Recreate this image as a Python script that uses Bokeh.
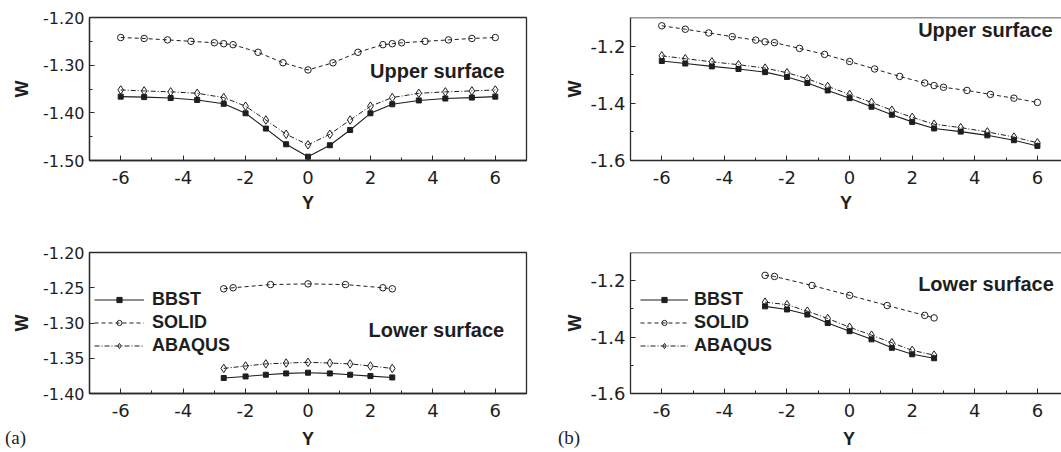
from bokeh.plotting import figure
from bokeh.layouts import column, row
from bokeh.models import (FixedTicker, PrintfTickFormatter, Label, Legend,
                          LegendItem, Span, Range1d, Div)
from bokeh.embed import file_html
from bokeh.resources import INLINE

# ---------------- data ----------------
# (a) upper surface
xa_up_bbst = [-6, -5.25, -4.4, -3.55, -2.7, -2.0, -1.35, -0.7, 0, 0.7, 1.35, 2.0, 2.7, 3.55, 4.4, 5.25, 6]
ya_up_bbst = [-1.366, -1.367, -1.369, -1.373, -1.381, -1.401, -1.433, -1.466, -1.492,
              -1.468, -1.436, -1.401, -1.382, -1.374, -1.370, -1.368, -1.366]
ya_up_abaqus = [-1.352, -1.354, -1.356, -1.359, -1.368, -1.386, -1.415, -1.445, -1.467,
                -1.445, -1.415, -1.386, -1.368, -1.359, -1.356, -1.354, -1.352]
xa_up_solid = [-6, -5.25, -4.5, -3.75, -3.0, -2.7, -2.4, -1.6, -0.8, 0, 0.8, 1.6, 2.4, 2.7, 3.0, 3.75, 4.5, 5.25, 6]
ya_up_solid = [-1.242, -1.244, -1.247, -1.250, -1.253, -1.255, -1.257, -1.273, -1.295, -1.310,
               -1.295, -1.273, -1.257, -1.255, -1.253, -1.250, -1.247, -1.244, -1.242]

# (a) lower surface
xa_lo_bbst = [-2.7, -2.0, -1.35, -0.7, 0, 0.7, 1.35, 2.0, 2.7]
ya_lo_bbst = [-1.378, -1.3758, -1.3734, -1.3715, -1.3705, -1.3715, -1.3734, -1.3753, -1.3772]
ya_lo_abaqus = [-1.3644, -1.361, -1.358, -1.3568, -1.3558, -1.3568, -1.358, -1.361, -1.3644]
xa_lo_solid = [-2.7, -2.4, -1.2, 0, 1.2, 2.4, 2.7]
ya_lo_solid = [-1.2515, -1.250, -1.2455, -1.2445, -1.2455, -1.250, -1.2515]

# (b) upper surface
xb_up_bbst = xa_up_bbst
yb_up_bbst = [-1.252, -1.261, -1.271, -1.280, -1.291, -1.308, -1.329, -1.355, -1.382,
              -1.412, -1.440, -1.465, -1.488, -1.499, -1.512, -1.529, -1.549]
yb_up_abaqus = [-1.234, -1.244, -1.255, -1.265, -1.277, -1.293, -1.314, -1.341, -1.369,
                -1.397, -1.424, -1.449, -1.473, -1.485, -1.500, -1.518, -1.538]
xb_up_solid = xa_up_solid
yb_up_solid = [-1.129, -1.141, -1.154, -1.167, -1.179, -1.185, -1.188, -1.208, -1.229, -1.254,
               -1.280, -1.306, -1.329, -1.338, -1.344, -1.355, -1.369, -1.382, -1.397]

# (b) lower surface
xb_lo_bbst = xa_lo_bbst
yb_lo_bbst = [-1.291, -1.302, -1.320, -1.350, -1.379, -1.408, -1.438, -1.461, -1.475]
yb_lo_abaqus = [-1.276, -1.285, -1.308, -1.334, -1.365, -1.393, -1.420, -1.447, -1.464]
xb_lo_solid = xa_lo_solid
yb_lo_solid = [-1.181, -1.185, -1.217, -1.252, -1.288, -1.323, -1.332]

series_names = ["BBST", "SOLID", "ABAQUS"]

x_ticks = [-6, -4, -2, 0, 2, 4, 6]
x_minor = [-7, -5, -3, -1, 1, 3, 5, 7]
ya_up_ticks = [-1.50, -1.40, -1.30, -1.20]
ya_up_minor = [-1.45, -1.35, -1.25]
ya_lo_ticks = [-1.40, -1.35, -1.30, -1.25, -1.20]
yb_ticks = [-1.6, -1.4, -1.2]
yb_minor = [-1.5, -1.3]

INK = "#1e1e1e"
AX = "#2a2a2a"


def make_panel(width, height, bl, br, bt, bb, xr, yr, yticks, yminor, yfmt,
               ytick_size, wstand, xlabel, outline):
    p = figure(width=width, height=height, output_backend="svg", toolbar_location=None,
               x_range=Range1d(*xr), y_range=Range1d(*yr),
               min_border_left=bl, min_border_right=br, min_border_top=bt,
               min_border_bottom=bb)
    p.xgrid.visible = False
    p.ygrid.visible = False
    p.background_fill_color = "white"
    p.border_fill_color = "white"
    if outline:
        p.outline_line_color = AX
        p.outline_line_width = 1.3
        p.outline_line_alpha = 1
    else:
        p.outline_line_color = None
        p.add_layout(Span(location=yr[1], dimension="width", line_color=AX, line_width=1.3))
    p.xaxis.ticker = FixedTicker(ticks=x_ticks, minor_ticks=x_minor)
    p.xaxis.formatter = PrintfTickFormatter(format="%d")
    p.yaxis.ticker = FixedTicker(ticks=yticks, minor_ticks=yminor)
    p.yaxis.formatter = PrintfTickFormatter(format=yfmt)
    for ax in (p.xaxis, p.yaxis):
        ax.axis_line_color = AX
        ax.axis_line_width = 1.3
        ax.major_tick_in = 5
        ax.major_tick_out = 0
        ax.minor_tick_in = 3
        ax.minor_tick_out = 0
        ax.major_tick_line_color = AX
        ax.minor_tick_line_color = AX
        ax.major_label_text_font = "DejaVu Sans"
        ax.major_label_text_color = INK
        ax.axis_label_text_font = "Liberation Sans"
        ax.axis_label_text_font_style = "bold"
        ax.axis_label_text_font_size = "18px"
        ax.axis_label_text_color = INK
    p.xaxis.major_label_text_font_size = "18px"
    p.yaxis.major_label_text_font_size = ytick_size
    p.xaxis.major_label_standoff = 10
    p.yaxis.major_label_standoff = 5
    if xlabel:
        p.xaxis.axis_label = xlabel
        p.xaxis.axis_label_standoff = 6
    p.yaxis.axis_label = "W"
    p.yaxis.axis_label_standoff = wstand
    return p


def add_series(p, xb, yb, xs, ys, ya):
    rb_l = p.line(xb, yb, line_color=INK, line_width=1.1)
    rb_m = p.scatter(xb, yb, marker="square", size=5, fill_color=INK, line_color=INK)
    rs_l = p.line(xs, ys, line_color=INK, line_width=1.0, line_dash="4 3")
    rs_m = p.scatter(xs, ys, marker="circle", size=6.5, fill_color=None, line_color=INK,
                     line_width=1.0)
    ra_l = p.line(xb, ya, line_color=INK, line_width=1.0, line_dash="5 2 1 2")
    ra_m = p.scatter(xb, ya, marker="diamond", size=8.5, fill_color=None, line_color=INK,
                     line_width=1.0)
    return [[rb_l, rb_m], [rs_l, rs_m], [ra_l, ra_m]]


def add_legend(p, groups, loc, gw, standoff):
    items = [LegendItem(label=n, renderers=g) for n, g in zip(series_names, groups)]
    lg = Legend(items=items, location=loc, glyph_width=gw, glyph_height=13,
                label_height=20, spacing=2, padding=0, margin=0,
                label_standoff=standoff, border_line_color=None,
                background_fill_alpha=0, label_text_font="Liberation Sans",
                label_text_font_style="bold", label_text_font_size="18px",
                label_text_color=INK)
    p.add_layout(lg)


def add_text(p, x, y, txt):
    p.add_layout(Label(x=x, y=y, text=txt, text_font="Liberation Sans",
                       text_font_style="bold", text_font_size="20px",
                       text_color=INK, text_baseline="alphabetic"))


XR_B = (-7, 6.77)

# ---- (a) upper ----
pa1 = make_panel(558, 216, 89, 32, 17, 56, (-7, 7), (-1.5, -1.2), ya_up_ticks, ya_up_minor,
                 "%.2f", "16px", 8, "Y", True)
add_series(pa1, xa_up_bbst, ya_up_bbst, xa_up_solid, ya_up_solid, ya_up_abaqus)
add_text(pa1, 1.99, -1.3118, "Upper surface")

# ---- (b) upper ----
pb1 = make_panel(503, 216, 72, 0, 17, 56, XR_B, (-1.6, -1.1), yb_ticks, yb_minor,
                 "%.1f", "18px", 2, "Y", False)
add_series(pb1, xb_up_bbst, yb_up_bbst, xb_up_solid, yb_up_solid, yb_up_abaqus)
add_text(pb1, 2.19, -1.1427, "Upper surface")

# ---- (a) lower ----
pa2 = make_panel(558, 212, 89, 32, 36, 35, (-7, 7), (-1.4, -1.2), ya_lo_ticks, [],
                 "%.2f", "16px", 8, None, True)
ga = add_series(pa2, xa_lo_bbst, ya_lo_bbst, xa_lo_solid, ya_lo_solid, ya_lo_abaqus)
add_legend(pa2, ga, (5, 37), 50, 8)
add_text(pa2, 1.94, -1.3104, "Lower surface")

# ---- (b) lower ----
pb2 = make_panel(503, 212, 72, 0, 36, 35, XR_B, (-1.6, -1.1), yb_ticks, yb_minor,
                 "%.1f", "18px", 2, None, False)
gb = add_series(pb2, xb_lo_bbst, yb_lo_bbst, xb_lo_solid, yb_lo_solid, yb_lo_abaqus)
add_legend(pb2, gb, (10, 37), 48, 6)
add_text(pb2, 2.19, -1.2106, "Lower surface")

# bottom strip: axis titles of the lower panels and the panel tags
ax_title = ("position:absolute;top:2px;width:20px;text-align:center;line-height:18px;"
            "font-family:'Liberation Sans';font-weight:bold;font-size:18px;color:%s;" % INK)
tag = ("position:absolute;top:0px;line-height:19px;font-family:'Liberation Serif';"
       "font-size:19px;color:%s;" % INK)
strip_html = (
    '<div style="position:relative;width:1061px;height:24px;margin:0;padding:0;">'
    '<span style="%sleft:5px;">(a)</span>'
    '<span style="%sleft:298px;">Y</span>'
    '<span style="%sleft:558px;">(b)</span>'
    '<span style="%sleft:839px;">Y</span>'
    '</div>' % (tag, ax_title, tag, ax_title)
)
strip = Div(text=strip_html, width=1061, height=24, margin=0)

layout = column(row(pa1, pb1), row(pa2, pb2), strip)

with open("out.html", "w") as f:
    f.write(file_html(layout, INLINE))
